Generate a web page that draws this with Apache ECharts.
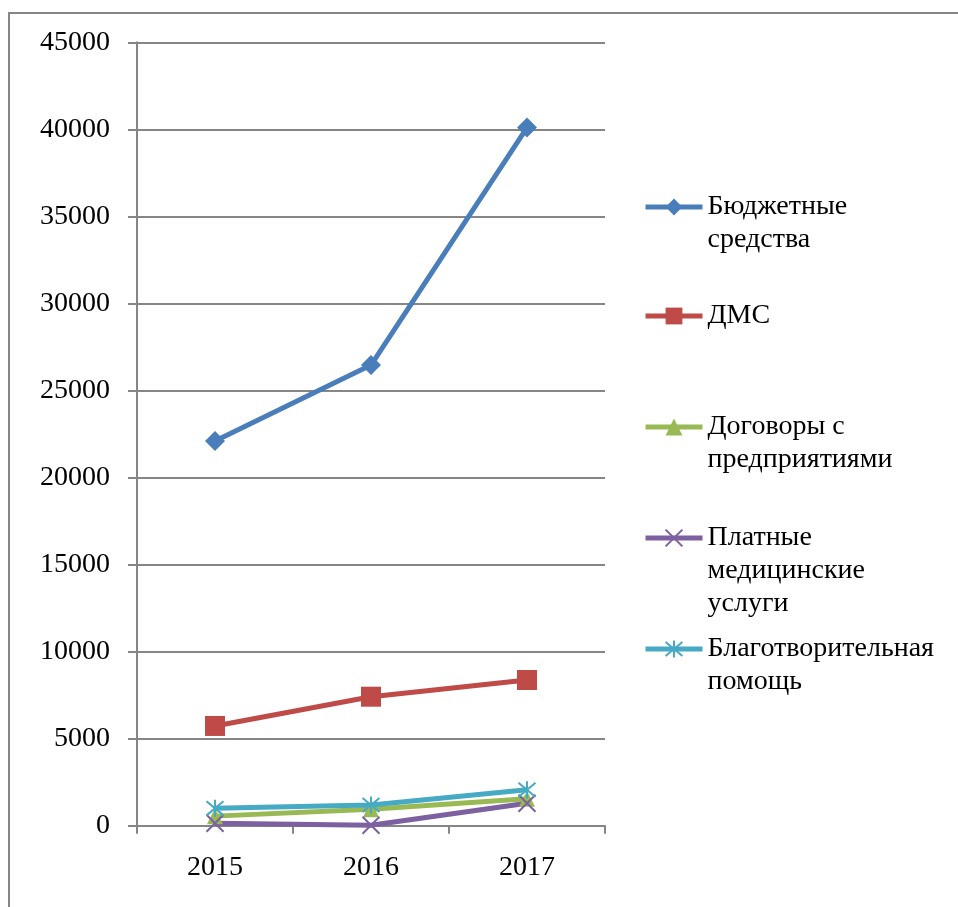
<!DOCTYPE html>
<html><head><meta charset="utf-8">
<script src="https://cdn.jsdelivr.net/npm/echarts@6/dist/echarts.min.js"></script>
<style>html,body{margin:0;padding:0;background:#fff}#c{width:958px;height:907px}</style>
</head><body><div id="c"></div>
<script>
const years = ['2015', '2016', '2017'];
const seriesNames = ['Бюджетные средства', 'ДМС', 'Договоры с предприятиями', 'Платные медицинские услуги', 'Благотворительная помощь'];
const legendLabels = ['Бюджетные\nсредства', 'ДМС', 'Договоры с\nпредприятиями', 'Платные\nмедицинские\nуслуги', 'Благотворительная\nпомощь'];
const budget = [22100, 26460, 40100];
const dms = [5730, 7410, 8370];
const contracts = [550, 950, 1550];
const paid = [140, 30, 1290];
const charity = [1000, 1190, 2060];
const yTicks = [0, 5000, 10000, 15000, 20000, 25000, 30000, 35000, 40000, 45000];

const colors = ['#4A7EBB', '#BE4B48', '#98B954', '#7D60A0', '#46AAC5'];
const values = [budget, dms, contracts, paid, charity];
const symbols = ['diamond', 'rect', 'triangle',
  'path://M0,0L10,10M10,0L0,10',
  'path://M0,0L10,10M10,0L0,10M5,-1L5,11'];
const symSizes = [20, 20, 16, 17, 17];
const legendCenters = [207, 316, 427, 538, 649];
const FONT = '"Liberation Serif", "Times New Roman", serif';
const LH = 33;

const series = seriesNames.map((n, i) => ({
  name: n,
  type: 'line',
  data: values[i],
  symbol: symbols[i],
  symbolSize: symSizes[i],
  lineStyle: { color: colors[i], width: 5 },
  itemStyle: i >= 3 ? { color: colors[i], borderColor: colors[i], borderWidth: 2 } : { color: colors[i], borderWidth: 0 },
  emphasis: { disabled: true },
  animation: false
}));

const legends = seriesNames.map((n, i) => {
  const lines = legendLabels[i].split('\n').length;
  return {
    data: [n],
    orient: 'vertical',
    left: 643,
    top: legendCenters[i] - (2 * lines - 1) * LH / 2,
    padding: 0,
    itemWidth: 57,
    itemHeight: 21,
    itemGap: 0,
    selectedMode: false,
    lineStyle: { width: 5 },
    formatter: () => '\n'.repeat(lines - 1) + legendLabels[i],
    textStyle: { fontFamily: FONT, fontSize: 28, color: '#000', lineHeight: LH }
  };
});

const chart = echarts.init(document.getElementById('c'), null, { renderer: 'canvas' });
chart.setOption({
  animation: false,
  color: colors,
  grid: { left: 137, top: 42.3, right: 353, bottom: 81.3, containLabel: false },
  xAxis: {
    type: 'category',
    data: years,
    boundaryGap: true,
    axisLine: { lineStyle: { color: '#868686', width: 2 } },
    axisTick: { show: true, length: 8, lineStyle: { color: '#868686', width: 2 } },
    axisLabel: { fontFamily: FONT, fontSize: 28, color: '#000', margin: 28 },
    splitLine: { show: false }
  },
  yAxis: {
    type: 'value',
    min: 0, max: 45000, interval: 5000,
    axisLine: { show: true, lineStyle: { color: '#868686', width: 2 } },
    axisTick: { show: true, length: 9, lineStyle: { color: '#868686', width: 2 } },
    axisLabel: { fontFamily: FONT, fontSize: 28, color: '#000', margin: 27,
      formatter: v => yTicks.includes(v) ? String(v) : '' },
    splitLine: { show: true, lineStyle: { color: '#868686', width: 2 } }
  },
  legend: legends,
  series: series,
  graphic: [{
    type: 'rect',
    shape: { x: 9, y: 13, width: 1000, height: 1000 },
    style: { fill: 'none', stroke: '#868686', lineWidth: 2 },
    silent: true, z: -10
  }]
});
</script></body></html>
